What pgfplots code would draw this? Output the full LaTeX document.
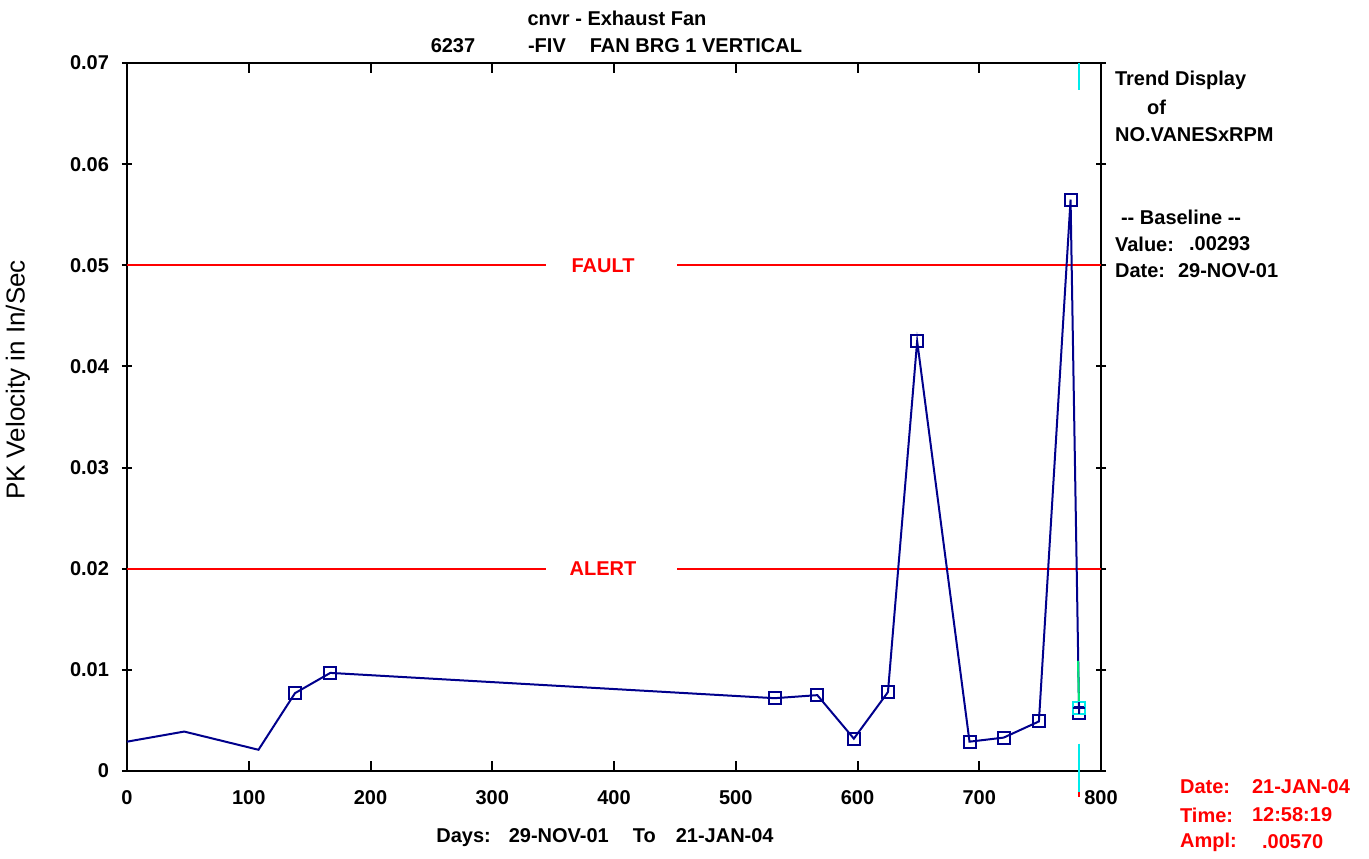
\documentclass[border=0pt]{standalone}
\usepackage{fontspec}
\setmainfont{Liberation Sans}
\usepackage{pgfplots}
\usepackage{pgfplotstable}
\pgfplotsset{compat=1.18}
\definecolor{trend}{RGB}{0,0,140}
\definecolor{alarm}{RGB}{255,0,0}
\definecolor{cursor}{RGB}{0,235,235}
\definecolor{curgreen}{RGB}{0,230,120}

% days since baseline vs. peak velocity
\pgfplotstableread{
day   vel
0     0.0029
47    0.0039
108   0.0021
138   0.0077
167   0.0097
532   0.0072
567   0.0075
597   0.0032
625   0.0078
649   0.0425
692   0.0029
720   0.0033
749   0.0049
775   0.0565
782   0.0057
}\trendtable

\begin{document}
\begin{tikzpicture}[font=\bfseries\fontsize{10}{12}\selectfont]
\useasboundingbox (-63.5pt,-43.5pt) rectangle (621pt,385.5pt);
\begin{axis}[
  scale only axis,
  width=487pt, height=354pt,
  xmin=0, xmax=800, ymin=0, ymax=0.07,
  xtick={0,100,200,300,400,500,600,700,800},
  ytick={0,0.01,0.02,0.03,0.04,0.05,0.06,0.07},
  yticklabels={0,0.01,0.02,0.03,0.04,0.05,0.06,0.07},
  scaled y ticks=false,
  /pgf/number format/assume math mode=true,
  tick label style={font=\bfseries\fontsize{10}{12}\selectfont},
  xticklabel style={yshift=-6pt},
  yticklabel style={xshift=-3pt},
  axis line style={line width=1pt},
  tick style={black, line width=1pt},
  major tick length=5pt,
  xtick align=inside,
  ytick align=center,
  clip=false,
]
  % alarm levels
  \addplot[alarm, line width=0.9pt] coordinates {(0,0.05) (344,0.05)};
  \addplot[alarm, line width=0.9pt] coordinates {(452,0.05) (800,0.05)};
  \addplot[alarm, line width=0.9pt] coordinates {(0,0.02) (344,0.02)};
  \addplot[alarm, line width=0.9pt] coordinates {(452,0.02) (800,0.02)};
  \node[text=alarm] at (axis cs:391,0.05) {FAULT};
  \node[text=alarm] at (axis cs:391,0.02) {ALERT};

  % trend
  \addplot[trend, line width=1pt, no marks] table[x=day, y=vel] {\trendtable};
  \addplot[trend, line width=1pt, only marks, mark=square, mark size=3pt,
    skip coords between index={0}{3}] table[x=day, y=vel] {\trendtable};

  % cursor
  \addplot[curgreen, line width=1pt] coordinates {(781.1,0.0109) (782,0.0062)};
  \addplot[cursor, line width=1pt, only marks, mark=square, mark size=3pt] coordinates {(782,0.0062)};
  \addplot[trend, line width=1pt, only marks, mark=+, mark size=3pt] coordinates {(782,0.0062)};
  \addplot[cursor, line width=1pt] coordinates {(782,0.07) (782,0.0673)};
  \addplot[cursor, line width=1pt] coordinates {(782,0.0027) (782,-0.0021)};
  \addplot[alarm, line width=1pt] coordinates {(782,-0.0021) (782,-0.0026)};
\end{axis}

% titles
\node at (245pt,376.5pt) {cnvr - Exhaust Fan};
\node at (163pt,362.5pt) {6237};
\node[anchor=west] at (197pt,362.5pt) {-FIV\hspace{12pt}FAN BRG 1 VERTICAL};
\node at (239pt,-33.5pt) {Days:\hspace{9pt}29-NOV-01\hspace{12pt}To\hspace{10pt}21-JAN-04};
\node[rotate=90, font=\mdseries\fontsize{13}{15}\selectfont] at (-54.5pt,195.5pt) {PK Velocity in In/Sec};

% side panel
\node[anchor=west] at (490.5pt,345.5pt) {Trend Display};
\node[anchor=west] at (506.5pt,332pt) {of};
\node[anchor=west] at (490.5pt,318pt) {NO.VANESxRPM};
\node[anchor=west] at (493.5pt,277pt) {-{}- Baseline -{}-};
\node[anchor=west] at (490.5pt,263.5pt) {Value:};
\node[anchor=west] at (527.5pt,263.5pt) {.00293};
\node[anchor=west] at (490.5pt,250pt) {Date:};
\node[anchor=west] at (522pt,250pt) {29-NOV-01};

% cursor readout
\begin{scope}[text=alarm]
\node[anchor=west] at (523pt,-8pt) {Date:};
\node[anchor=west] at (559pt,-8pt) {21-JAN-04};
\node[anchor=west] at (523pt,-22pt) {Time:};
\node[anchor=west] at (559pt,-22pt) {12:58:19};
\node[anchor=west] at (523pt,-35.5pt) {Ampl:};
\node[anchor=west] at (564pt,-35.5pt) {.00570};
\end{scope}
\end{tikzpicture}
\end{document}
